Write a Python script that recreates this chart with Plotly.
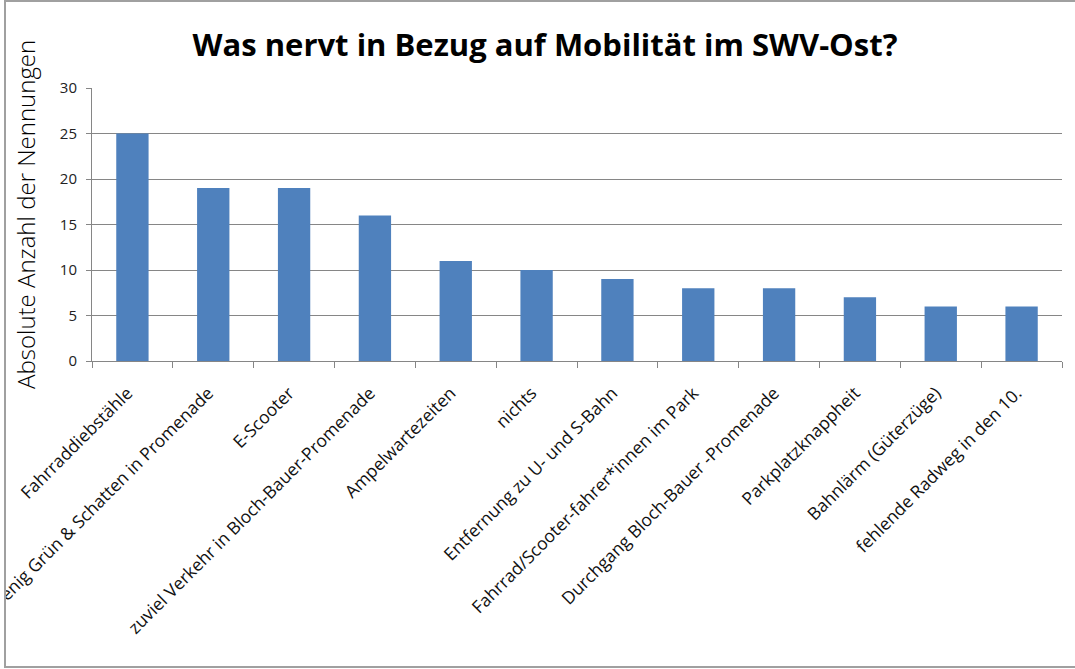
import plotly.graph_objects as go

categories = [
    "Fahrraddiebstähle",
    "Wenig Grün & Schatten in Promenade",
    "E-Scooter",
    "zuviel Verkehr in Bloch-Bauer-Promenade",
    "Ampelwartezeiten",
    "nichts",
    "Entfernung zu U- und S-Bahn",
    "Fahrrad/Scooter-fahrer*innen im Park",
    "Durchgang Bloch-Bauer -Promenade",
    "Parkplatzknappheit",
    "Bahnlärm (Güterzüge)",
    "fehlende Radweg in den 10.",
]
values = [25, 19, 19, 16, 11, 10, 9, 8, 8, 7, 6, 6]
y_ticks = [0, 5, 10, 15, 20, 25, 30]

title_text = "Was nervt in Bezug auf Mobilität im SWV-Ost?"
y_title = "Absolute Anzahl der Nennungen"

W, H = 1075, 669
L, R, T, B = 92, 13, 88, 308
pw = W - L - R
ph = H - T - B

def px_x(x):
    return (x - L) / pw

def px_y(y):
    return (H - B - y) / ph

fig = go.Figure(go.Bar(
    x=categories, y=values,
    marker=dict(color="#4F81BD", line=dict(width=0)),
))

fig.update_layout(
    width=W, height=H,
    margin=dict(l=L, r=R, t=T, b=B, autoexpand=False),
    paper_bgcolor="white", plot_bgcolor="white",
    bargap=0.6,
    showlegend=False,
    font=dict(family="Open Sans", color="#222"),
    title=dict(text="<b>" + title_text + "</b>", x=px_x(545), xref="paper", xanchor="center",
               y=1 - 45 / H, yanchor="middle",
               font=dict(family="Open Sans", size=31, color="#000")),
    xaxis=dict(
        type="category", tickangle=-45, automargin=False,
        showline=True, linecolor="#868686", linewidth=1,
        ticks="outside", tickson="boundaries", ticklen=6, tickcolor="#868686",
        tickfont=dict(family="Open Sans", size=17.5, color="#111"),
        ticklabelstandoff=14, ticklabelshift=-5,
        showgrid=False,
    ),
    yaxis=dict(
        range=[0, 30], tickvals=y_ticks, automargin=False,
        showline=True, linecolor="#868686", linewidth=1,
        ticks="outside", ticklen=5, tickcolor="#868686",
        showgrid=True, gridcolor="#868686", gridwidth=1,
        zeroline=False,
        ticklabelstandoff=6,
        tickfont=dict(family="Open Sans", size=15, color="#222"),
    ),
    annotations=[dict(
        text=y_title, textangle=-90, showarrow=False,
        xref="paper", yref="paper", x=px_x(25), y=px_y(215),
        xanchor="center", yanchor="middle",
        font=dict(family="Open Sans", size=24, color="#000", weight=300),
    )],
    shapes=[
        dict(
            type="rect", xref="paper", yref="paper",
            x0=px_x(-20), x1=px_x(5), y0=px_y(690), y1=px_y(-20),
            line=dict(width=0), fillcolor="white", layer="above",
        ),
        dict(
            type="rect", xref="paper", yref="paper",
            x0=px_x(5), x1=px_x(1085), y0=px_y(667), y1=px_y(1),
            line=dict(color="#a0a0a0", width=2), fillcolor="rgba(0,0,0,0)",
            layer="above",
        ),
    ],
)

fig.write_html(
    "out.html",
    config={"displayModeBar": False},
    post_script="document.body.style.margin='0';document.body.style.overflow='hidden';",
)
